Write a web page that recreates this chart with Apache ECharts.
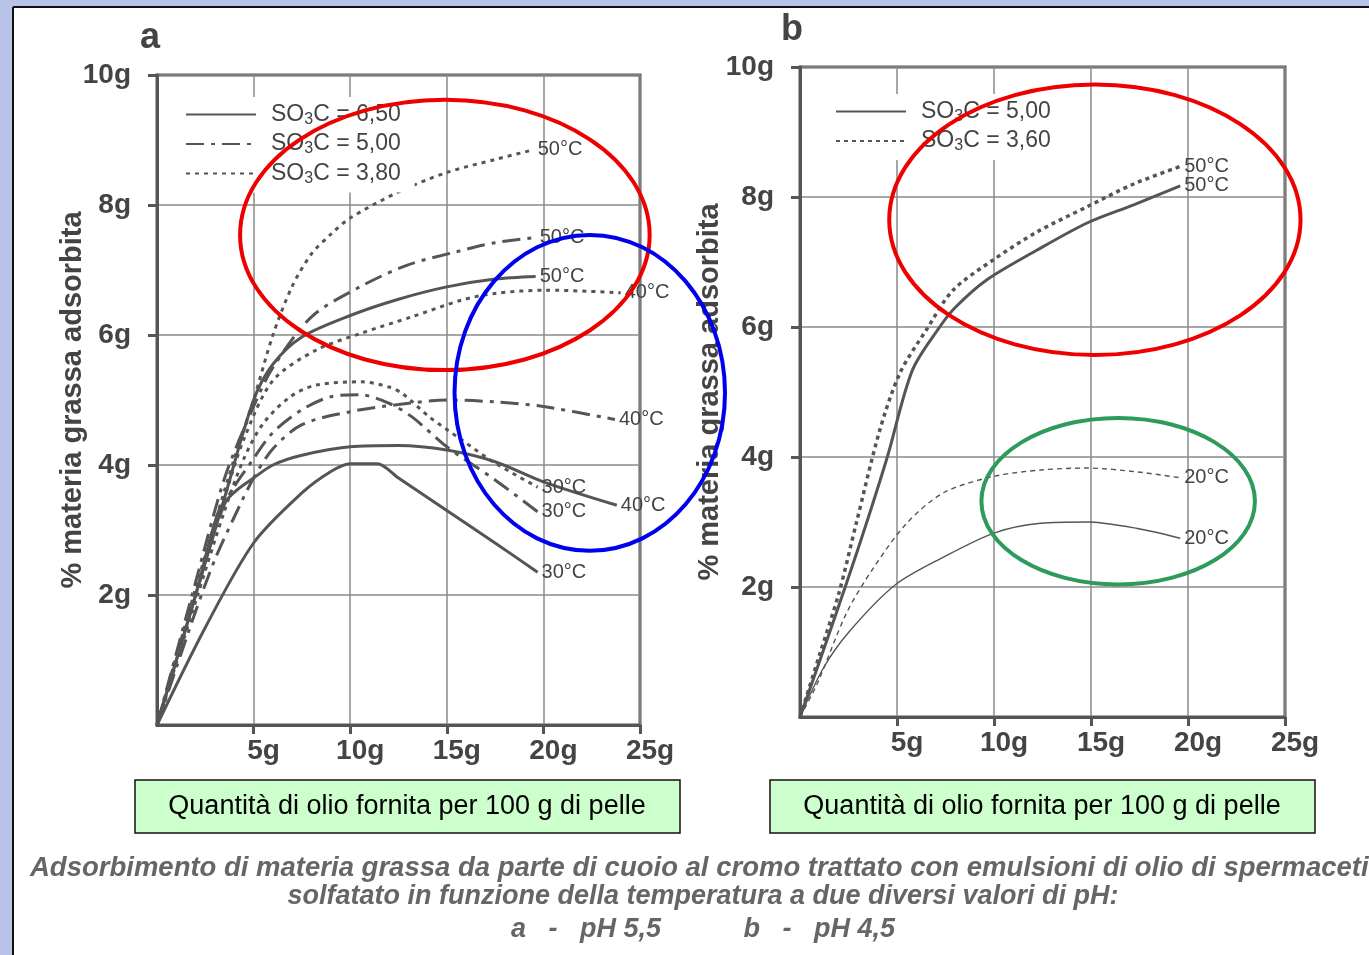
<!DOCTYPE html>
<html>
<head>
<meta charset="utf-8">
<script src="https://cdn.jsdelivr.net/npm/echarts@6/dist/echarts.min.js"></script>
<style>
  html, body { margin: 0; padding: 0; background: #fff; }
  #chart { width: 1369px; height: 955px; }
</style>
</head>
<body>
<div id="chart"></div>
<script>
// tick labels
var xTicks = [5, 10, 15, 20, 25];
var yTicks = [2, 4, 6, 8, 10];

// chart a (pH 5,5) - SO3C = 6,50 (solid)
var a650_50 = [[0,0],[2.5,2.5],[3.5,3.5],[5,5],[6,5.55],[7.5,5.97],[10,6.3],[12.5,6.55],[15,6.74],[17.5,6.86],[19.6,6.9]];
var a650_40 = [[0,0],[2,2],[3.2,3.3],[4,3.58],[5,3.8],[6,4.0],[7.5,4.15],[10,4.28],[12.5,4.3],[15,4.23],[17.5,4.05],[20,3.74],[23.8,3.38]];
var a650_30 = [[0,0],[2.5,1.5],[5,2.8],[7.5,3.57],[9,3.9],[10,4.02],[11.4,4.02],[12.5,3.8],[15,3.3],[17.5,2.8],[19.7,2.35]];
// SO3C = 5,00 (dash-dot)
var a500_50 = [[0,0],[2,2.2],[3.5,3.8],[5,4.9],[6,5.5],[8,6.28],[10.5,6.74],[13,7.08],[15.5,7.28],[17.5,7.42],[19.6,7.5]];
var a500_40 = [[0,0],[2,1.75],[3,2.55],[4,3.2],[5,3.8],[6,4.25],[7.5,4.62],[10,4.82],[12.5,4.93],[15,5.0],[17.5,4.97],[20,4.9],[23.7,4.7]];
var a500_30 = [[0,0],[2,2],[3.5,3.4],[5,4.1],[6,4.5],[7.5,4.85],[9,5.05],[10.5,5.08],[12,4.95],[13.2,4.74],[15,4.28],[17.5,3.77],[19.7,3.28]];
// SO3C = 3,80 (dotted)
var a380_50 = [[0,0],[2,2.1],[4,4.1],[5,5.0],[6,6.0],[7,6.75],[8,7.25],[9,7.55],[10,7.8],[12.5,8.2],[15,8.5],[17.5,8.7],[19.5,8.85]];
var a380_40 = [[0,0],[2,2],[3.5,3.5],[4.5,4.4],[6,5.3],[8.25,5.77],[10.6,6.03],[13.2,6.28],[15.8,6.54],[17.5,6.64],[20.1,6.69],[24,6.65]];
var a380_30 = [[0,0],[2,1.9],[3.5,3.3],[4.5,4.1],[5.5,4.64],[6.9,5.05],[8.25,5.23],[10.6,5.28],[12,5.2],[12.7,5.1],[14.1,4.74],[15.8,4.38],[17.5,4.03],[19.7,3.66]];

// chart b (pH 4,5)
var b500_50 = [[0,0],[1,0.85],[2.4,2.06],[3.5,3.05],[4.5,4.0],[5.8,5.34],[7.2,6.0],[8,6.3],[9.6,6.72],[12.2,7.18],[14.8,7.6],[17.2,7.88],[19.6,8.17]];
var b360_50 = [[0,0],[1,0.95],[2,1.9],[2.9,2.98],[4.1,4.4],[5.15,5.29],[6.5,5.95],[7.9,6.57],[9.95,7.03],[12.2,7.46],[14.8,7.85],[17.2,8.2],[19.6,8.47]];
var b500_20 = [[0,0],[1.2,0.75],[2.5,1.3],[4.9,2.03],[7.4,2.46],[10,2.83],[12.4,2.98],[14.8,3.0],[17.4,2.9],[19.6,2.75]];
var b360_20 = [[0,0],[0.9,0.52],[2.4,1.6],[3.8,2.3],[5.5,2.98],[7.4,3.45],[9.95,3.7],[12.4,3.8],[14.8,3.83],[17.4,3.77],[19.6,3.68]];

var legendA = { a650: '6,50', a500: '5,00', a380: '3,80' };
var legendB = { b500: '5,00', b360: '3,60' };

var ink = '#555';
var solid = 'solid';
var dashDot = [18, 7, 4, 7];
var dotted = [4, 5];

var myChart = echarts.init(document.getElementById('chart'));

function curve(name, data, g, dash, label, width) {
  return {
    name: name,
    type: 'line',
    xAxisIndex: g,
    yAxisIndex: g,
    data: data,
    smooth: 0.3,
    symbol: 'none',
    lineStyle: { color: ink, width: width || 3, type: dash },
    itemStyle: { color: ink },
    endLabel: { show: true, formatter: label, color: '#444', fontSize: 20, fontFamily: 'Liberation Sans', distance: 4 },
    z: 3
  };
}

function xAxis(g) {
  return {
    type: 'value', gridIndex: g, min: 0, max: 25, interval: 2.5,
    axisLine: { show: true, lineStyle: { color: ink, width: 3 } },
    axisTick: { show: true, customValues: xTicks, length: 9, lineStyle: { color: ink, width: 3 } },
    axisLabel: {
      customValues: xTicks, formatter: '{value}g', color: '#444', fontSize: 28, fontWeight: 'bold',
      fontFamily: 'Liberation Sans', margin: 12, padding: [0, 0, 0, 20]
    },
    splitLine: { show: true, lineStyle: { color: '#8a8a8a', width: 1.5 } }
  };
}

function yAxis(g, gap) {
  return {
    type: 'value', gridIndex: g, min: 0, max: 10, interval: 1,
    name: '% materia grassa adsorbita', nameLocation: 'middle', nameRotate: 90, nameGap: gap,
    nameMoveOverlap: false,
    nameTextStyle: { color: '#444', fontSize: 29, fontWeight: 'bold', fontFamily: 'Liberation Sans' },
    axisLine: { show: true, lineStyle: { color: ink, width: 3 } },
    axisTick: { show: true, customValues: yTicks, length: 9, lineStyle: { color: ink, width: 3 } },
    axisLabel: { customValues: yTicks, formatter: '{value}g', color: '#444', fontSize: 28, fontWeight: 'bold', fontFamily: 'Liberation Sans', margin: 26 },
    splitLine: { show: true, lineStyle: { color: '#8a8a8a', width: 1.5 } }
  };
}

var richSO = {
  g: { width: 10 },
  t: { color: '#444', fontSize: 23, fontFamily: 'Liberation Sans' },
  s: { color: '#444', fontSize: 16, fontFamily: 'Liberation Sans', padding: [10, 0, 0, 0] }
};

function legend(names, map, left, top) {
  return {
    data: names, left: left, top: top, orient: 'vertical',
    itemWidth: 70, itemHeight: 14, itemGap: 5,
    backgroundColor: '#fff', padding: [6, 14, 6, 14],
    selectedMode: false,
    itemStyle: { color: 'transparent', borderWidth: 0, opacity: 0 },
    formatter: function (n) { return '{g|}{t|SO}{s|3}{t|C = ' + map[n] + '}'; },
    textStyle: { rich: richSO }
  };
}

var option = {
  backgroundColor: '#fff',
  animation: false,
  legend: [
    legend(['a650', 'a500', 'a380'], legendA, 171, 97),
    legend(['b500', 'b360'], legendB, 821, 94)
  ],
  grid: [
    { left: 157, top: 75, width: 483, height: 650, show: true, borderColor: ink, borderWidth: 3 },
    { left: 800, top: 67, width: 485, height: 650, show: true, borderColor: ink, borderWidth: 3 }
  ],
  xAxis: [xAxis(0), xAxis(1)],
  yAxis: [yAxis(0, 70), yAxis(1, 76)],
  series: [
    curve('a650', a650_50, 0, solid, '50°C'),
    curve('a650', a650_40, 0, solid, '40°C'),
    curve('a650', a650_30, 0, solid, '30°C'),
    curve('a500', a500_50, 0, dashDot, '50°C'),
    curve('a500', a500_40, 0, dashDot, '40°C'),
    curve('a500', a500_30, 0, dashDot, '30°C'),
    curve('a380', a380_50, 0, dotted, '50°C'),
    curve('a380', a380_40, 0, dotted, '40°C'),
    curve('a380', a380_30, 0, dotted, '30°C'),
    curve('b500', b500_50, 1, solid, '50°C'),
    curve('b360', b360_50, 1, [4, 4], '50°C', 3.5),
    curve('b500', b500_20, 1, solid, '20°C', 1.4),
    curve('b360', b360_20, 1, [5, 4], '20°C', 1.4)
  ]
};
myChart.setOption(option);

// annotation ellipses, given in data units of each panel
var ellipses = [
  { g: 0, c: [14.9, 7.54], r: [10.6, 2.08], color: '#ee0000' },
  { g: 0, c: [22.4, 5.11], r: [7.0, 2.43], color: '#0000ee' },
  { g: 1, c: [15.2, 7.65], r: [10.6, 2.08], color: '#ee0000' },
  { g: 1, c: [16.4, 3.32], r: [7.05, 1.28], color: '#2e9a5c' }
];

var graphics = [
  { type: 'rect', left: 0, top: 0, shape: { width: 1369, height: 7 }, style: { fill: '#b9c3ea' }, silent: true },
  { type: 'rect', left: 0, top: 0, shape: { width: 13, height: 955 }, style: { fill: '#b9c3ea' }, silent: true },
  { type: 'line', shape: { x1: 13, y1: 7, x2: 1369, y2: 7 }, style: { stroke: '#111', lineWidth: 2 } },
  { type: 'line', shape: { x1: 13, y1: 7, x2: 13, y2: 955 }, style: { stroke: '#111', lineWidth: 2 } },
  { type: 'text', left: 140, top: 20, style: { text: 'a', fill: '#444', font: 'bold 36px "Liberation Sans"' } },
  { type: 'text', left: 781, top: 12, style: { text: 'b', fill: '#444', font: 'bold 36px "Liberation Sans"' } }
];

[[135, 'Quantità di olio fornita per 100 g di pelle'], [770, 'Quantità di olio fornita per 100 g di pelle']].forEach(function (b) {
  graphics.push({ type: 'rect', shape: { x: b[0], y: 780, width: 545, height: 53 }, style: { fill: '#ccffcc', stroke: '#111', lineWidth: 1.5 } });
  graphics.push({ type: 'text', x: b[0] + 272, y: 807, style: { text: b[1], fill: '#000', font: '27px "Liberation Sans"', align: 'center', verticalAlign: 'middle' } });
});

var capFont = 'italic bold 27px "Liberation Sans"';
graphics.push({ type: 'text', x: 30, y: 868, style: { text: 'Adsorbimento di materia grassa da parte di cuoio al cromo trattato con emulsioni di olio di spermaceti', fill: '#666', font: 'italic bold 27.5px "Liberation Sans"', verticalAlign: 'middle' } });
graphics.push({ type: 'text', x: 703, y: 897, style: { text: 'solfatato in funzione della temperatura a due diversi valori di pH:', fill: '#666', font: capFont, align: 'center', verticalAlign: 'middle' } });
graphics.push({ type: 'text', x: 703, y: 930, style: { text: 'a   -   pH 5,5           b   -   pH 4,5', fill: '#666', font: capFont, align: 'center', verticalAlign: 'middle' } });

ellipses.forEach(function (e) {
  var c = myChart.convertToPixel({ gridIndex: e.g }, e.c);
  var p = myChart.convertToPixel({ gridIndex: e.g }, [e.c[0] + e.r[0], e.c[1] + e.r[1]]);
  graphics.push({
    type: 'ellipse', z: 100,
    shape: { cx: c[0], cy: c[1], rx: Math.abs(p[0] - c[0]), ry: Math.abs(c[1] - p[1]) },
    style: { fill: 'none', stroke: e.color, lineWidth: 4 }
  });
});

myChart.setOption({ graphic: graphics });
</script>
</body>
</html>
